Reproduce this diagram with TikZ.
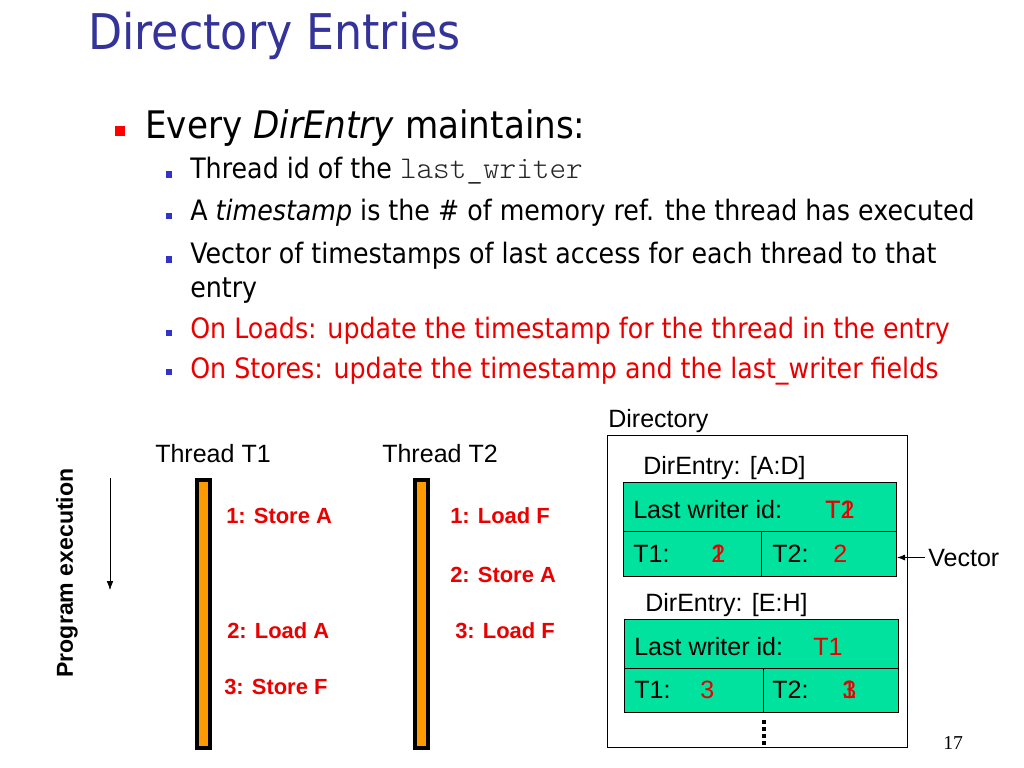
\documentclass[tikz,border=0pt]{standalone}
\usepackage{fontspec}
\setmainfont{Liberation Sans}
\newfontfamily\slidefont[FakeStretch=0.9]{DejaVu Sans}
\newfontfamily\codefont{Latin Modern Mono Light}
\newfontfamily\pagefont{Liberation Serif}
\usetikzlibrary{arrows.meta}

\definecolor{titleblue}{RGB}{51,51,153}
\definecolor{bulletblue}{RGB}{51,51,204}
\definecolor{entrygreen}{RGB}{0,226,158}
\definecolor{barorange}{RGB}{255,153,0}
\definecolor{opred}{RGB}{235,0,0}

\tikzset{
  txt/.style={anchor=base west, inner sep=0pt},
  lvlone/.style={txt, font=\slidefont\fontsize{27}{32}\selectfont},
  lvltwo/.style={txt, font=\slidefont\fontsize{20}{24}\selectfont},
  bulone/.style={rectangle, fill=red, minimum size=0.25cm, inner sep=0pt},
  bultwo/.style={rectangle, fill=bulletblue, minimum size=0.16cm, inner sep=0pt},
  lbl/.style={txt, font=\fontsize{17.8}{21}\selectfont},
  val/.style={lbl, text=opred},
  op/.style={anchor=west, inner sep=0pt, text=opred, font=\bfseries\fontsize{15.6}{18}\selectfont},
  thread/.style={rectangle, draw=black, line width=2.8pt, fill=barorange, minimum width=0.325cm, minimum height=6.7cm, inner sep=0pt},
  entryrow/.style={rectangle, draw=black, thick, fill=entrygreen, anchor=north west, inner sep=0pt}
}

\begin{document}
\begin{tikzpicture}[x=0.025cm, y=-0.025cm]
\useasboundingbox (0,0) rectangle (1024,768);

% Title and bullet list
\node[txt, text=titleblue, font=\slidefont\fontsize{35}{40}\selectfont] (title) at (88,50) {Directory Entries};
\node[bulone] (b0) at (120,131) {};
\node[lvlone] (l0) at (145,139) {Every \textit{DirEntry} maintains:};
\node[bultwo] (b1) at (169,174.5) {};
\node[lvltwo] (l1) at (190,178) {Thread id of the {\codefont\fontsize{22.5}{24}\selectfont\color{black!85}last\_writer}};
\node[bultwo] (b2) at (169,216) {};
\node[lvltwo] (l2) at (190,220) {A \textit{timestamp} is the \# of memory ref. the thread has executed};
\node[bultwo] (b3) at (169,259.5) {};
\node[lvltwo] (l3) at (190,263) {Vector of timestamps of last access for each thread to that};
\node[lvltwo] (l3b) at (190,297) {entry};
\node[bultwo] (b4) at (169,333) {};
\node[lvltwo, text=opred] (l4) at (190,338) {On Loads: update the timestamp for the thread in the entry};
\node[bultwo] (b5) at (169,372) {};
\node[lvltwo, text=opred] (l5) at (190,378) {On Stores: update the timestamp and the last\_writer fields};

% Program order
\node[rotate=90, inner sep=0pt, font=\bfseries\fontsize{16.4}{20}\selectfont] (prog) at (67,573) {Program execution};
\coordinate (pstart) at (110,478);
\coordinate (pend) at (110,590);
\draw[-{Latex[length=2.2mm,width=1.6mm]}] (pstart) -- (pend);

% Threads
\node[lbl] (t1) at (155,462) {Thread T1};
\node[lbl] (t2) at (382,462) {Thread T2};
\node[thread] (bar1) at (203.5,614) {};
\node[thread] (bar2) at (421.5,614) {};
\node[op] (s11) at (226,516) {1: Store A};
\node[op] (s12) at (227,631) {2: Load A};
\node[op] (s13) at (224,687) {3: Store F};
\node[op] (s21) at (450,516) {1: Load F};
\node[op] (s22) at (450,575) {2: Store A};
\node[op] (s23) at (455,631) {3: Load F};

% Directory
\node[lbl] (dirlbl) at (608,427) {Directory};
\node[rectangle, draw=black, anchor=north west, minimum width=7.5cm, minimum height=7.8cm, inner sep=0pt] (dir) at (606.5,434.5) {};

% Entry [A:D]
\node[lbl] (adlbl) at (643,474) {DirEntry: [A:D]};
\node[entryrow, minimum width=6.825cm, minimum height=1.225cm] (adw) at (623,482) {};
\node[entryrow, minimum width=3.45cm, minimum height=1.125cm] (adt1) at (623,531) {};
\node[entryrow, minimum width=3.375cm, minimum height=1.125cm] (adt2) at (761,531) {};
\node[lbl] (adwl) at (633,518) {Last writer id:};
\node[val] (adwa) at (825,518) {T1};
\node[val] (adwb) at (825,518) {T2};
\node[lbl] (adt1l) at (633,562) {T1:};
\node[val] (adt1a) at (711,562) {1};
\node[val] (adt1b) at (711,562) {2};
\node[lbl] (adt2l) at (772,562) {T2:};
\node[val] (adt2a) at (833,562) {2};

% Entry [E:H]
\node[lbl] (ehlbl) at (645,611) {DirEntry: [E:H]};
\node[entryrow, minimum width=6.85cm, minimum height=1.225cm] (ehw) at (624,619) {};
\node[entryrow, minimum width=3.475cm, minimum height=1.1cm] (eht1) at (624,668) {};
\node[entryrow, minimum width=3.375cm, minimum height=1.1cm] (eht2) at (763,668) {};
\node[lbl] (ehwl) at (634,655) {Last writer id:};
\node[val] (ehwa) at (813,655) {T1};
\node[lbl] (eht1l) at (634,698) {T1:};
\node[val] (eht1a) at (700,698) {3};
\node[lbl] (eht2l) at (772,698) {T2:};
\node[val] (eht2a) at (842,698) {1};
\node[val] (eht2b) at (842,698) {3};

% more entries
\foreach \y in {720,727,734,741}
  \fill (761.5,\y) rectangle +(4,4);

% Vector pointer
\node[lbl] (vec) at (928,566) {Vector};
\draw[-{Latex[length=2mm,width=1.5mm]}, shorten <=2pt] (vec.west) -- (vec.west -| adt2.east);

\node[txt, font=\pagefont\fontsize{14}{16}\selectfont] (page) at (943,749) {17};
\end{tikzpicture}
\end{document}
